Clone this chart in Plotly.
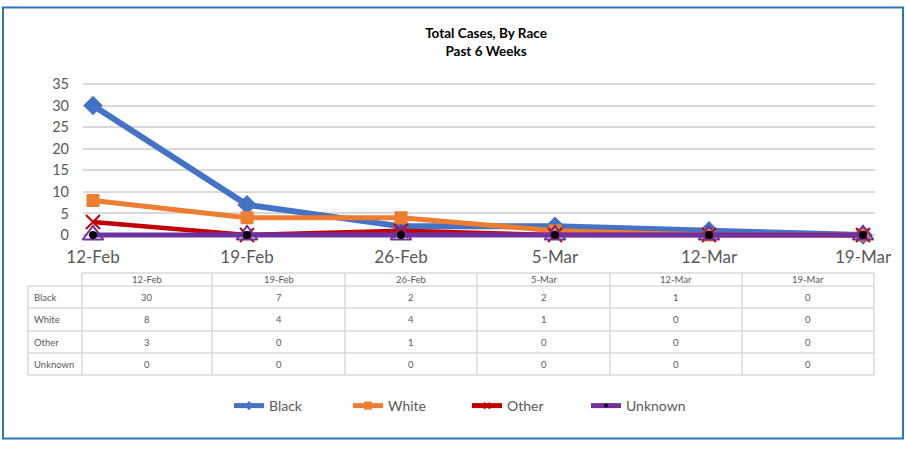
import plotly.graph_objects as go

# ---- data ----
dates = ["12-Feb", "19-Feb", "26-Feb", "5-Mar", "12-Mar", "19-Mar"]
black = [30, 7, 2, 2, 1, 0]
white = [8, 4, 4, 1, 0, 0]
other = [3, 0, 1, 0, 0, 0]
unknown = [0, 0, 0, 0, 0, 0]
series_names = ["Black", "White", "Other", "Unknown"]
y_ticks = [0, 5, 10, 15, 20, 25, 30, 35]

W, H = 906, 449
L, R, T, B = 83, 875, 70, 245  # plot area in pixels
FONT = "Lato"
GREY = "#595959"
GRID = "#D9D9D9"

def px(x):
    return (x - L) / (R - L)

def py(y):
    return (B - y) / (B - T)

# y scale: 0 at 235px, 35 at 84px
upp = 35 / (235 - 84)
y_lo = -(B - 235) * upp
y_hi = 35 + (84 - T) * upp

colors = ["#4472C4", "#ED7D31", "#C00000", "#7030A0"]

fig = go.Figure()
fig.add_trace(go.Scatter(x=dates, y=black, name="Black", mode="lines+markers", showlegend=False,
                         line=dict(color=colors[0], width=6),
                         marker=dict(symbol="diamond", size=15, color=colors[0]),
                         cliponaxis=False))
fig.add_trace(go.Scatter(x=dates, y=white, name="White", mode="lines+markers", showlegend=False,
                         line=dict(color=colors[1], width=5),
                         marker=dict(symbol="square", size=13, color=colors[1]),
                         cliponaxis=False))
fig.add_trace(go.Scatter(x=dates, y=other, name="Other", mode="lines+markers", showlegend=False,
                         line=dict(color=colors[2], width=4.5),
                         marker=dict(symbol="x-thin", size=14, color=colors[2],
                                     line=dict(color=colors[2], width=2)),
                         cliponaxis=False))
fig.add_trace(go.Scatter(x=dates, y=unknown, name="Unknown", mode="lines+markers", showlegend=False,
                         line=dict(color=colors[3], width=5),
                         marker=dict(symbol="triangle-up", size=18, color="rgba(255,255,255,0)",
                                     line=dict(color=colors[3], width=2)),
                         cliponaxis=False))
fig.add_trace(go.Scatter(x=dates, y=unknown, mode="markers", showlegend=False,
                         hoverinfo="skip",
                         marker=dict(symbol="circle", size=8, color="black"),
                         cliponaxis=False))

# legend-only entries (small markers like the reference legend)
legend_markers = [
    dict(symbol="diamond", size=7, color=colors[0]),
    dict(symbol="square", size=8, color=colors[1]),
    dict(symbol="x-thin", size=6, color=colors[2], line=dict(color=colors[2], width=2)),
    dict(symbol="circle", size=4, color="black"),
]
for name, c, m in zip(series_names, colors, legend_markers):
    fig.add_trace(go.Scatter(x=[None], y=[None], name=name, mode="lines+markers",
                             line=dict(color=c, width=5), marker=m, showlegend=True))

n = len(dates)
x_lo = -(93 - L) / 154
x_hi = (n - 1) + (R - 863) / 154

fig.update_xaxes(type="category", range=[x_lo, x_hi], showgrid=False, showline=False,
                 zeroline=False, ticks="", tickfont=dict(family=FONT, size=17, color=GREY),
                 ticklabelstandoff=0)
fig.update_yaxes(range=[y_lo, y_hi], tickvals=y_ticks, showgrid=True, gridcolor=GRID,
                 gridwidth=1.5, zeroline=False, showline=False, ticks="",
                 tickfont=dict(family=FONT, size=14.5, color=GREY), ticklabelstandoff=13)

shapes = []
annotations = []
line_style = dict(color=GRID, width=1.5)

# ---- data table ----
col_edges = [82, 212, 345, 477, 610, 742, 874]
row_edges = [286, 308, 331, 353, 375]
header_top = 273
label_left = 28

shapes.append(dict(type="line", xref="paper", yref="paper", x0=px(col_edges[0]), x1=px(col_edges[-1]),
                   y0=py(header_top), y1=py(header_top), line=line_style))
for ry in row_edges:
    shapes.append(dict(type="line", xref="paper", yref="paper", x0=px(label_left), x1=px(col_edges[-1]),
                       y0=py(ry), y1=py(ry), line=line_style))
shapes.append(dict(type="line", xref="paper", yref="paper", x0=px(label_left), x1=px(label_left),
                   y0=py(row_edges[0]), y1=py(row_edges[-1]), line=line_style))
for cx in col_edges:
    shapes.append(dict(type="line", xref="paper", yref="paper", x0=px(cx), x1=px(cx),
                       y0=py(header_top), y1=py(row_edges[-1]), line=line_style))

cell_font = dict(family=FONT, size=9.5, color=GREY)
for i, d in enumerate(dates):
    cx = (col_edges[i] + col_edges[i + 1]) / 2
    annotations.append(dict(x=px(cx), y=py((header_top + row_edges[0]) / 2), xref="paper", yref="paper",
                            text=d, showarrow=False, font=cell_font, xanchor="center", yanchor="middle"))
table_rows = [black, white, other, unknown]
for r, (name, vals) in enumerate(zip(series_names, table_rows)):
    cy = (row_edges[r] + row_edges[r + 1]) / 2
    annotations.append(dict(x=px(label_left + 4), y=py(cy), xref="paper", yref="paper", text=name,
                            showarrow=False, font=cell_font, xanchor="left", yanchor="middle"))
    for i, v in enumerate(vals):
        cx = (col_edges[i] + col_edges[i + 1]) / 2
        annotations.append(dict(x=px(cx), y=py(cy), xref="paper", yref="paper", text=str(v),
                                showarrow=False, font=cell_font, xanchor="center", yanchor="middle"))

# ---- outer border ----
shapes.append(dict(type="rect", xref="paper", yref="paper", x0=px(3), x1=px(903), y0=py(7.5), y1=py(438.5),
                   line=dict(color="#2E75B6", width=2), fillcolor="rgba(0,0,0,0)", layer="below"))

fig.update_layout(
    width=W, height=H,
    margin=dict(l=L, r=W - R, t=T, b=H - B),
    paper_bgcolor="white", plot_bgcolor="white",
    title=dict(text="<b>Total Cases, By Race</b><br><b>Past 6 Weeks</b>",
               x=486 / W, xanchor="center", y=1 - 38 / H, yanchor="middle",
               font=dict(family=FONT, size=13.5, color="black")),
    legend=dict(orientation="h", x=px(229), xanchor="left", y=py(406), yanchor="middle",
                font=dict(family=FONT, size=14, color=GREY),
                entrywidth=74, entrywidthmode="pixels",
                bgcolor="rgba(0,0,0,0)"),
    shapes=shapes, annotations=annotations,
    showlegend=True,
)

fig.write_html("out.html", config={"displayModeBar": False},
               post_script="document.body.style.margin='0';document.body.style.overflow='hidden';")
